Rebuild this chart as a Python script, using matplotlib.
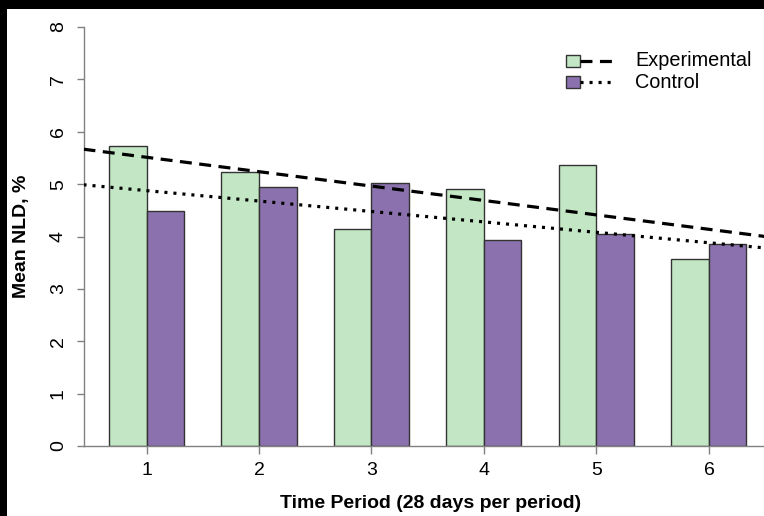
import numpy as np
import matplotlib
matplotlib.use('Agg')
import matplotlib.pyplot as plt
from matplotlib.patches import Rectangle
from matplotlib.lines import Line2D

plt.rcParams['font.family'] = ['Liberation Sans', 'DejaVu Sans']
plt.rcParams['lines.scale_dashes'] = False

# data
periods = [1, 2, 3, 4, 5, 6]
experimental = [5.73, 5.23, 4.15, 4.90, 5.37, 3.57]
control = [4.48, 4.95, 5.02, 3.93, 4.04, 3.85]
y_ticks = [0, 1, 2, 3, 4, 5, 6, 7, 8]

green = '#C3E7C4'
purple = '#8B72AF'
axis_grey = '#808080'

W, H = 764, 516
fig = plt.figure(figsize=(W / 100, H / 100), dpi=100)
ax = fig.add_axes([83.5 / W, (H - 446) / H, (772 - 83.5) / W, (446 - 27) / H])

# R style barplot positions: bar width 1, one unit gap between groups
p = np.array(periods)
x_exp = 3 * p - 1.5
x_ctl = 3 * p - 0.5
ax.bar(x_exp, experimental, width=1, color=green, edgecolor='#333333', linewidth=1.0, zorder=2)
ax.bar(x_ctl, control, width=1, color=purple, edgecolor='#333333', linewidth=1.0, zorder=2)

xlim = (0.32, 18.68)
ax.set_xlim(*xlim)
ax.set_ylim(0, 8)

# linear trend of each series against period, drawn across the whole plot
xs = np.array(xlim)
for vals, dash in [(experimental, (8.6, 5.4)), (control, (2.2, 4.3))]:
    b1, b0 = np.polyfit(p, vals, 1)
    ys = b0 + b1 * (xs + 1) / 3
    ln, = ax.plot(xs, ys, color='black', linewidth=2.3, solid_capstyle='butt',
                  dash_capstyle='butt', zorder=3, clip_on=True)
    ln.set_dashes(dash)

ax.set_xticks(3 * p - 1)
ax.set_xticklabels([str(v) for v in periods])
ax.set_yticks(y_ticks)
ax.set_yticklabels([str(v) for v in y_ticks], rotation=90, va='center')

for s in ['top', 'right']:
    ax.spines[s].set_visible(False)
for s in ['left', 'bottom']:
    ax.spines[s].set_color(axis_grey)
    ax.spines[s].set_linewidth(1.0)

ax.tick_params(axis='x', length=5.8, width=1.0, color=axis_grey, labelsize=14, pad=6)
ax.tick_params(axis='y', length=5.0, width=1.0, color=axis_grey, labelsize=14, pad=7)

fig.text(431 / W, 1 - 504 / H, 'Time Period (28 days per period)', fontsize=14,
         fontweight='bold', ha='center', va='center')
fig.text(22 / W, 1 - 236 / H, 'Mean NLD, %', fontsize=14, fontweight='bold',
         ha='center', va='center', rotation=90)

# legend drawn R style: filled box followed by the line sample
legend_rows = [('Experimental', green, (8.6, 5.4), 61), ('Control', purple, (2.2, 4.3), 82)]
for label, col, dash, yc in legend_rows:
    fig.patches.append(Rectangle((566 / W, 1 - (yc + 6) / H), 14 / W, 12 / H,
                                 transform=fig.transFigure, facecolor=col,
                                 edgecolor='#333333', linewidth=1.0))
    ln = Line2D([580 / W, 613 / W], [1 - yc / H, 1 - yc / H], transform=fig.transFigure,
                color='black', linewidth=2.3, solid_capstyle='butt', dash_capstyle='butt')
    ln.set_dashes(dash)
    fig.lines.append(ln)
    fig.text(635 / W, 1 - yc / H, label, fontsize=14.3, ha='left', va='center')

# black frame strips along the top and left of the original image
fig.patches.append(Rectangle((0, 1 - 9 / H), 1, 9 / H, transform=fig.transFigure,
                             facecolor='black', edgecolor='none'))
fig.patches.append(Rectangle((0, 0), 7 / W, 1, transform=fig.transFigure,
                             facecolor='black', edgecolor='none'))

fig.savefig('out.png', dpi=100)
